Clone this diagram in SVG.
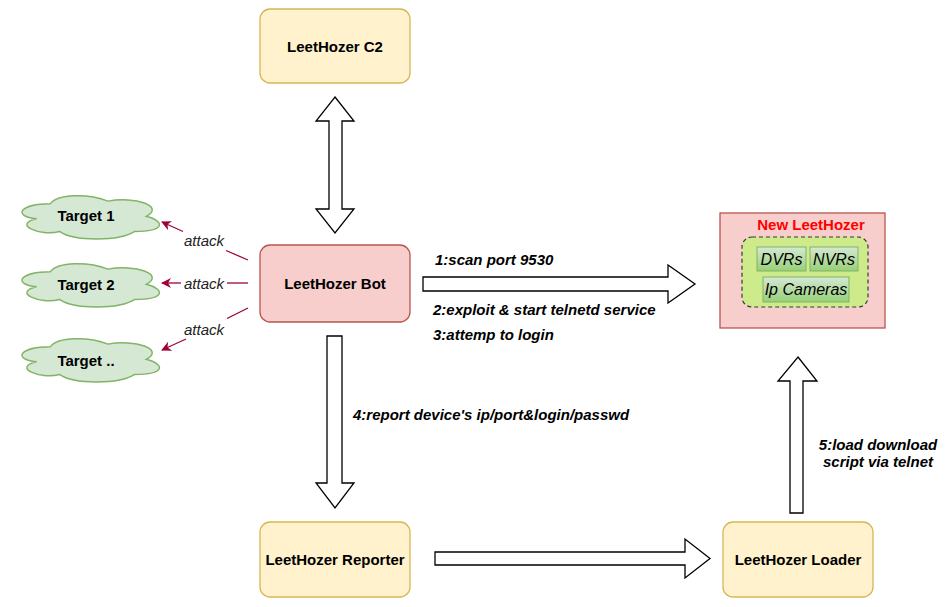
<svg xmlns="http://www.w3.org/2000/svg" width="946" height="607" viewBox="0 0 946 607">
<defs>
<marker id="ah" viewBox="0 0 10 10" refX="9" refY="5" markerWidth="10" markerHeight="10" markerUnits="userSpaceOnUse" orient="auto">
<path d="M0,0 L10,5 L0,10 L3,5 Z" fill="#a0003a"/>
</marker>
<path id="cloud" d="M34.25,11 C6.85,11 0,22 21.92,24.2 C0,29.04 24.66,39.6 42.47,35.2 C54.8,44 95.9,44 109.6,35.2 C137,35.2 137,26.4 119.875,22 C137,13.2 109.6,4.4 85.625,8.8 C68.5,2.2 41.1,2.2 34.25,11 Z"/>
<linearGradient id="gg" x1="0" y1="0" x2="0" y2="1">
<stop offset="0" stop-color="#d5e8d4"/>
<stop offset="1" stop-color="#97d077"/>
</linearGradient>
</defs>
<style>
.yel{fill:#fff2cc;stroke:#d6b656;stroke-width:1.3}
.pink{fill:#f8cecc;stroke:#b85450;stroke-width:1.3}
.cl{fill:#d5e8d4;stroke:#82b366;stroke-width:1.3;vector-effect:non-scaling-stroke}
.lbl{font-family:"Liberation Sans",Arial,sans-serif;font-size:15px;font-weight:bold;fill:#000;text-anchor:middle}
.edge{font-family:"Liberation Sans",Arial,sans-serif;font-size:15px;font-weight:bold;font-style:italic;fill:#000}
.att{font-family:"Liberation Sans",Arial,sans-serif;font-size:15px;font-style:italic;fill:#222;text-anchor:middle}
.blk{fill:#fff;stroke:#000;stroke-width:1.3;stroke-linejoin:miter}
.aline{stroke:#a0003a;stroke-width:1.3;fill:none}
.dev{fill:url(#gg);stroke:#82b366;stroke-width:1}
.devt{font-family:"Liberation Sans",Arial,sans-serif;font-size:16px;font-style:italic;fill:#000;text-anchor:middle}
</style>
<rect width="946" height="607" fill="#fff"/>

<g id="connectors">
<polygon class="blk" points="335,97 354,121 342,121 342,209 354,209 335,233 316,209 329,209 329,121 316,121"/>
<polygon class="blk" points="423,277 668,277 668,265 695,284 668,303 668,291 423,291"/>
<polygon class="blk" points="327,336 342,336 342,483 354,483 335,508 316,483 327,483"/>
<polygon class="blk" points="435,552 685,552 685,539 710,558.5 685,578 685,565 435,565"/>
<polygon class="blk" points="798,357 817,381 803,381 803,513 790,513 790,381 778,381"/>
<line class="aline" x1="248" y1="260" x2="226" y2="250.5"/>
<line class="aline" x1="183" y1="231.5" x2="162" y2="222" marker-end="url(#ah)"/>
<line class="aline" x1="248" y1="283" x2="227" y2="283"/>
<line class="aline" x1="181" y1="283" x2="162" y2="283" marker-end="url(#ah)"/>
<line class="aline" x1="248" y1="308" x2="227" y2="318.5"/>
<line class="aline" x1="186" y1="339" x2="162" y2="350" marker-end="url(#ah)"/>
<text class="att" x="204" y="246">attack</text>
<text class="att" x="204" y="289">attack</text>
<text class="att" x="204" y="335">attack</text>
<text class="edge" x="435" y="265">1:scan port 9530</text>
<text class="edge" x="433" y="315">2:exploit &amp; start telnetd service</text>
<text class="edge" x="433" y="340">3:attemp to login</text>
<text class="edge" x="353" y="420">4:report device's ip/port&amp;login/passwd</text>
<text class="edge" x="878" y="450" text-anchor="middle">5:load download</text>
<text class="edge" x="878" y="467" text-anchor="middle">script via telnet</text>
</g>

<g id="c2">
<rect class="yel" x="260" y="9" width="150" height="74" rx="10"/>
<text class="lbl" x="335" y="52">LeetHozer C2</text>
</g>
<g id="bot">
<rect class="pink" x="260" y="245" width="150" height="77" rx="10"/>
<text class="lbl" x="335" y="289">LeetHozer Bot</text>
</g>
<g id="reporter">
<rect class="yel" x="260" y="522" width="150" height="75" rx="10"/>
<text class="lbl" x="335" y="565">LeetHozer Reporter</text>
</g>
<g id="loader">
<rect class="yel" x="723" y="522" width="150" height="75" rx="10"/>
<text class="lbl" x="798" y="565">LeetHozer Loader</text>
</g>
<g id="target1">
<use href="#cloud" class="cl" transform="translate(12,191) scale(1.12,1.15)"/>
<text class="lbl" x="86" y="221">Target 1</text>
</g>
<g id="target2">
<use href="#cloud" class="cl" transform="translate(12,259) scale(1.12,1.15)"/>
<text class="lbl" x="86" y="290">Target 2</text>
</g>
<g id="target3">
<use href="#cloud" class="cl" transform="translate(12,334) scale(1.12,1.15)"/>
<text class="lbl" x="86" y="366">Target ..</text>
</g>
<g id="newleethozer">
<rect class="pink" x="720" y="213" width="165" height="115"/>
<text class="lbl" x="811" y="230" style="fill:#ff0000">New LeetHozer</text>
<rect x="742" y="237" width="126" height="70" rx="10" fill="#cdeb8b" stroke="#36393d" stroke-width="1.2" stroke-dasharray="4,3"/>
<g id="dvrs">
<rect class="dev" x="757" y="247" width="49" height="24"/>
<text class="devt" x="781.5" y="265">DVRs</text>
</g>
<g id="nvrs">
<rect class="dev" x="810" y="247" width="48" height="24"/>
<text class="devt" x="834" y="265">NVRs</text>
</g>
<g id="ipcameras">
<rect class="dev" x="763" y="277" width="86" height="25"/>
<text class="devt" x="806" y="295">Ip Cameras</text>
</g>
</g>
</svg>
